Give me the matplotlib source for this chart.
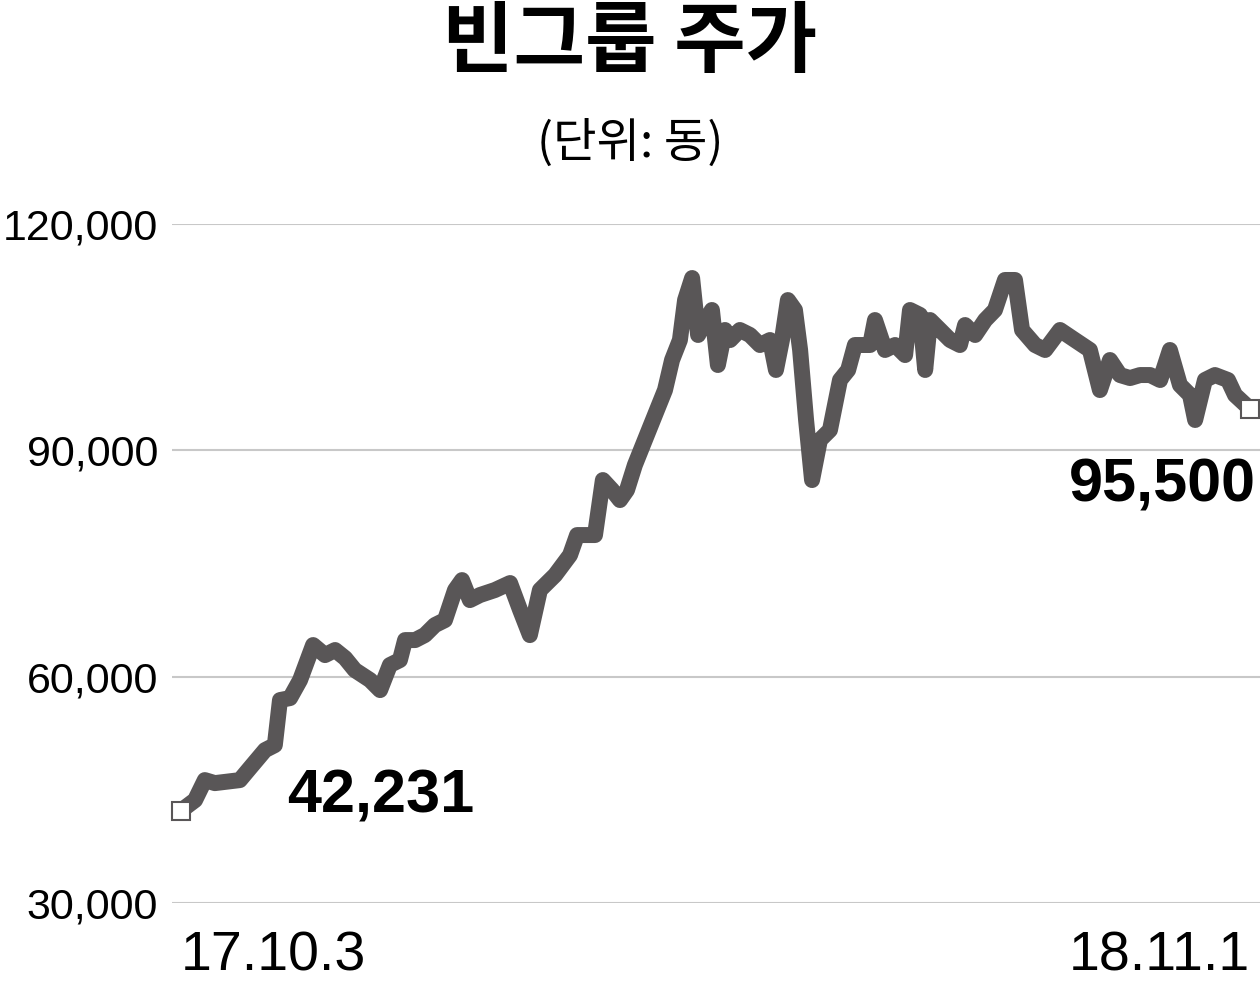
#Vingroup share price, 17.10.3 - 18.11.1
import matplotlib as mpl
mpl.use('Agg')
import matplotlib.pyplot as plt
from matplotlib.ticker import FuncFormatter
import numpy as np

# days since 17.10.3 and closing price (dong)
days = [0, 5.2, 8.8, 12.5, 21.7, 25.4, 31, 34.6, 36.5, 40.2, 43.9, 48.7, 53.1, 56.8,
        60.5, 64.1, 69.7, 73.4, 77, 80.7, 82.6, 86.3, 89.9, 93.6, 97.3, 101, 103.6,
        106.5, 110.2, 115.7, 121.3, 125, 128.6, 132.3, 137.9, 143.4, 146, 152.6,
        155.5, 158.9, 161.8, 164.4, 167.3, 171, 174.7, 178.4, 181, 183.9, 185.8,
        188.4, 190.6, 193.1, 195.7, 197.9, 200.5, 202.4, 206, 209.7, 213.4, 217.1,
        219.3, 221.5, 223.7, 226.3, 228.2, 230.4, 232.6, 235.5, 239.2, 242.9, 245.9,
        248.4, 254, 255.8, 259.5, 263.2, 266.9, 268.7, 272.4, 274.3, 276.1, 279.8,
        283.5, 287.1, 289, 292.7, 296.4, 300, 303.7, 307.4, 310, 314.8, 318.5, 324,
        329.5, 335, 338.7, 342.4, 346.1, 349.8, 353.5, 357.2, 360.9, 364.5, 368.2,
        371.9, 373.8, 377.4, 381.1, 385.9, 388.5, 394]
price = [42231, 43640, 46290, 45890, 46290, 47880, 50270, 50930, 56900, 57160, 59550,
         64190, 62860, 63530, 62460, 60870, 59550, 58220, 61540, 62200, 64850, 64850,
         65520, 66840, 67500, 71480, 72800, 70150, 70820, 71480, 72410, 68830, 65510,
         71480, 73470, 76120, 78770, 78770, 86060, 84740, 83410, 84740, 88050, 91370,
         94680, 97990, 101970, 104620, 109920, 112840, 105290, 107010, 108600, 101310,
         105950, 104620, 105950, 105290, 103960, 104620, 100650, 104620, 109920, 108600,
         103300, 94020, 86060, 91370, 92690, 99320, 100650, 103960, 103960, 107270,
         103300, 103960, 102630, 108600, 107940, 100650, 107270, 105950, 104620, 103960,
         106610, 105290, 107270, 108600, 112580, 112580, 105950, 103960, 103300, 105950,
         104620, 103300, 97990, 101970, 99980, 99580, 99980, 99980, 99320, 103300,
         98660, 97330, 94020, 99320, 99980, 99320, 97330, 95500]
yticks = [30000, 60000, 90000, 120000]
xlabels = ['17.10.3', '18.11.1']

num_font = ['Liberation Sans Narrow', 'Liberation Sans', 'DejaVu Sans']
kr_font = ['Noto Sans CJK KR', 'DejaVu Sans']
line_col = '#595657'

fig = plt.figure(figsize=(12.6, 9.92), dpi=100)
ax = fig.add_axes([172/1260, 1-903/992, 1-172/1260, (903-224)/992])

ax.plot(days, price, color=line_col, lw=11.5, solid_joinstyle='round',
        solid_capstyle='round', zorder=3)
ax.plot([days[0], days[-1]], [price[0], price[-1]], ls='none', marker='s',
        ms=13, mfc='white', mec=line_col, mew=1.5, zorder=4, clip_on=False)

ax.set_ylim(30000, 120000)
ax.set_xlim(-3.3, 397.7)
ax.set_yticks(yticks)
ax.yaxis.set_major_formatter(FuncFormatter(lambda v, p: f'{int(v):,}'))
ax.grid(axis='y', color='#c8c8c8', lw=1.5, zorder=0)
ax.set_xticks([days[0], days[-1]])
ax.set_xticklabels(xlabels)
for s in ax.spines.values():
    s.set_visible(False)
ax.tick_params(length=0)
ax.tick_params(axis='y', pad=10)
ax.tick_params(axis='x', pad=20)
for t in ax.get_yticklabels():
    t.set_fontfamily(num_font)
    t.set_fontsize(31)
for t in ax.get_xticklabels():
    t.set_fontfamily(num_font)
    t.set_fontsize(40)
xl = ax.get_xticklabels()
xl[0].set_ha('left')
xl[1].set_ha('right')

ax.text(days[0] + 39, 44000, f'{price[0]:,}', fontsize=44, fontweight='bold',
        family=num_font, ha='left', va='center')
ax.text(days[-1] + 2, 85300, f'{price[-1]:,}', fontsize=44, fontweight='bold',
        family=num_font, ha='right', va='center')

fig.text(0.5, 0.956, '빈그룹 주가', fontsize=56, fontweight='bold', family=kr_font,
         ha='center', va='center')
fig.text(0.5, 0.855, '(단위: 동)', fontsize=34, family=kr_font,
         ha='center', va='center')

plt.savefig('out.png', dpi=100)
